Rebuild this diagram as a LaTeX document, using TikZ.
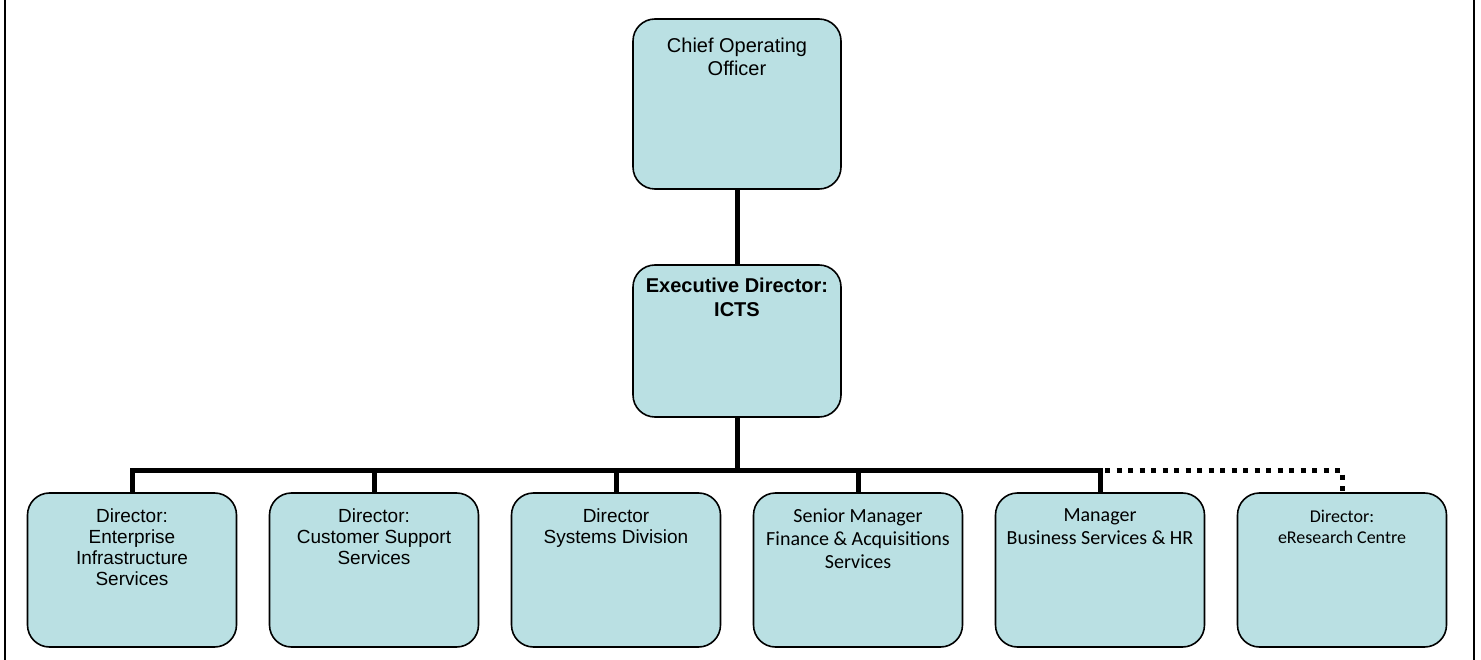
\documentclass[tikz,border=0pt]{standalone}
\usepackage{fontspec}
\setmainfont{Liberation Sans}
\newfontfamily\calibri{Carlito}
\definecolor{boxfill}{RGB}{186,224,227}
\begin{document}
\begin{tikzpicture}[x=1pt,y=-1pt,
    unit/.style={draw=black,line width=1.6pt,fill=boxfill,rounded corners=22pt,
        minimum width=209pt,minimum height=154pt,inner sep=0pt},
    caption/.style={anchor=north,align=center,inner sep=0pt},
    link/.style={line width=5pt}]
    \useasboundingbox (0,0) rectangle (1481,660);
    \draw[line width=2pt] (5,0) -- (5,660);
    \draw[line width=2pt] (1474,0) -- (1474,660);
    \node[unit,minimum width=208pt,minimum height=170pt] (coo) at (737,104) {};
    \node[unit,minimum width=208pt,minimum height=152pt] (ed) at (737,341) {};
    \node[unit] (eis) at (132,570) {};
    \node[unit] (css) at (374,570) {};
    \node[unit] (sysdiv) at (616,570) {};
    \node[unit] (fin) at (858,570) {};
    \node[unit] (bshr) at (1100,570) {};
    \node[unit] (eres) at (1342,570) {};
    \node[caption,font=\fontsize{20}{23}\selectfont] (cootext) at ([yshift=-20pt]coo.north) {Chief Operating\\Officer};
    \node[caption,font=\fontsize{20}{24}\selectfont\bfseries] (edtext) at ([yshift=-14pt]ed.north) {Executive Director:\\ICTS};
    \node[caption,font=\fontsize{19}{21}\selectfont] (eistext) at ([yshift=-16pt]eis.north) {Director:\\Enterprise\\Infrastructure\\Services};
    \node[caption,font=\fontsize{19}{21}\selectfont] (csstext) at ([yshift=-16pt]css.north) {Director:\\Customer Support\\Services};
    \node[caption,font=\fontsize{19}{21}\selectfont] (sysdivtext) at ([yshift=-16pt]sysdiv.north) {Director\\Systems Division};
    \node[caption,font=\fontsize{20}{23}\selectfont\calibri] (fintext) at ([yshift=-16pt]fin.north) {Senior Manager\\Finance \& Acquisitions\\Services};
    \node[caption,font=\fontsize{20}{23}\selectfont\calibri] (bshrtext) at ([yshift=-16pt]bshr.north) {Manager\\Business Services \& HR};
    \node[caption,font=\fontsize{18}{21}\selectfont\calibri] (erestext) at ([yshift=-18pt]eres.north) {Director:\\eResearch Centre};
    \coordinate (bus) at (737,470);
    \draw[link] (coo.south) -- (ed.north);
    \draw[link] (ed.south) -- (bus);
    \draw[link] (eis.north) |- (bus) -| (bshr.north);
    \foreach \n in {css,sysdiv,fin}
        \draw[link] (\n.north |- bus) -- (\n.north);
    \draw[link,dash pattern=on 5pt off 6.5pt,dash phase=-5pt] (bshr.north |- bus) -| (eres.north);
\end{tikzpicture}
\end{document}
